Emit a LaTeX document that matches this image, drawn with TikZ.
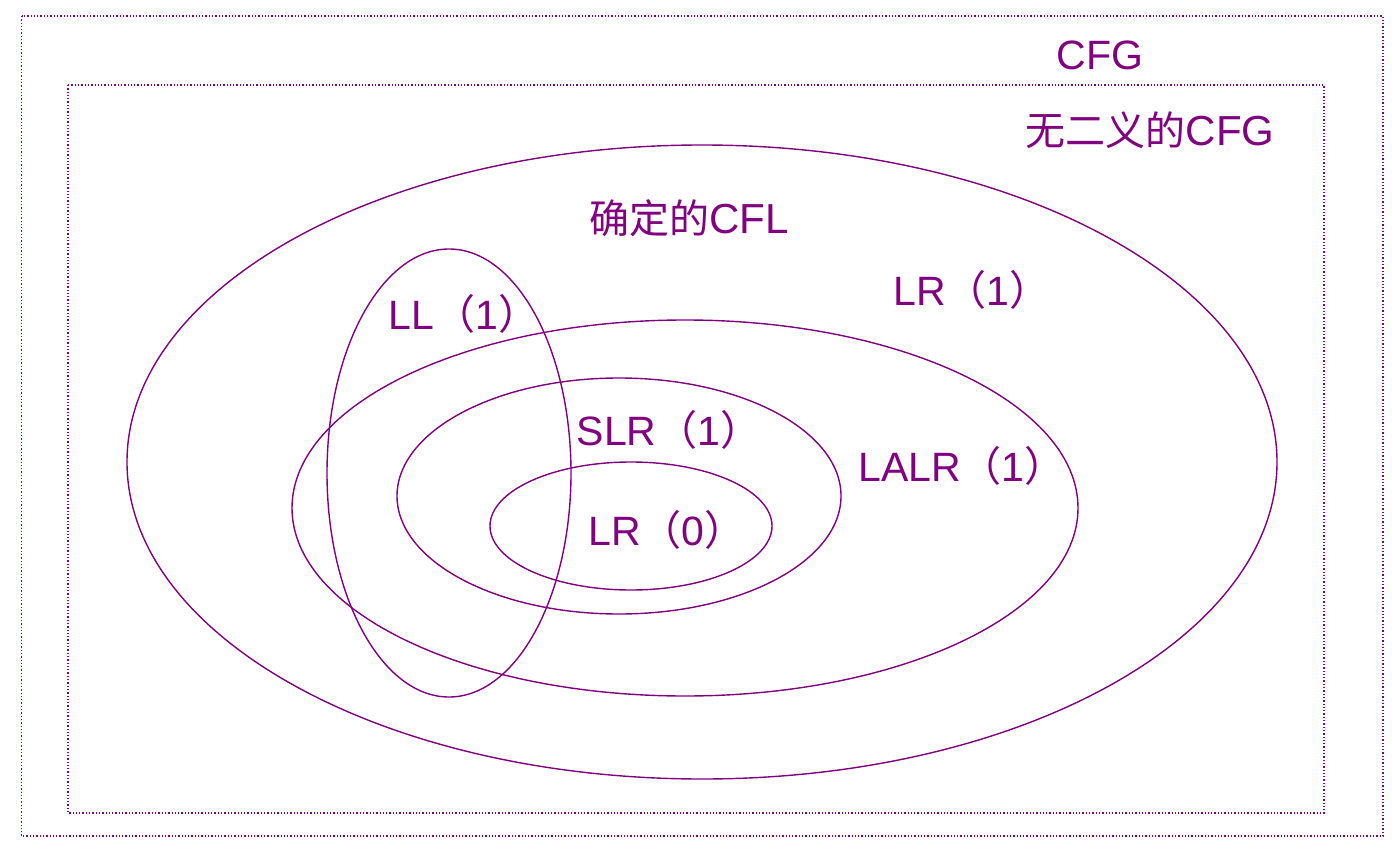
\documentclass[tikz,border=0pt]{standalone}
\usepackage{fontspec}
\setmainfont{Liberation Sans}
\newfontfamily\cjk{Noto Sans CJK SC}
\definecolor{pur}{HTML}{800080}
\newcommand\fp[1]{{\cjk （}#1{\cjk ）}}
\begin{document}
\begin{tikzpicture}[x=1pt,y=-1pt,
  box/.style={draw=pur,dotted,line width=1.3pt},
  ell/.style={draw=pur,line width=1.4pt},
  lab/.style={text=pur,font=\fontsize{41}{45}\selectfont,inner sep=0pt},
  plab/.style={lab,xshift=12pt},
  clab/.style={text=pur,font=\fontsize{40}{44}\selectfont\cjk,inner sep=0pt}]
\useasboundingbox (0,0) rectangle (1394,850);
\draw[box] (21.5,16) rectangle (1383,836);
\draw[box] (68,85) rectangle (1324,813);
\draw[ell] (702,462) ellipse [x radius=575, y radius=317];
\draw[ell] (685,508) ellipse [x radius=393, y radius=188];
\draw[ell] (619,496) ellipse [x radius=222, y radius=118];
\draw[ell] (631,526) ellipse [x radius=141, y radius=64];
\draw[ell] (449,473) ellipse [x radius=122, y radius=224];
\node[lab] (cfg) at (1100,55) {CFG};
\node[clab] (ucfg) at (1150,130) {无二义的{\setmainfont{Liberation Sans}\fontsize{42}{46}\selectfont CFG}};
\node[clab] (dcfl) at (689,218) {确定的{\setmainfont{Liberation Sans}\fontsize{42}{46}\selectfont CFL}};
\node[plab] (lr1) at (960,290) {LR\fp{1}};
\node[plab] (ll1) at (452,314) {LL\fp{1}};
\node[plab] (slr) at (657,430) {SLR\fp{1}};
\node[plab] (lalr) at (950,466) {LALR\fp{1}};
\node[plab] (lr0) at (655,530) {LR\fp{0}};
\end{tikzpicture}
\end{document}
